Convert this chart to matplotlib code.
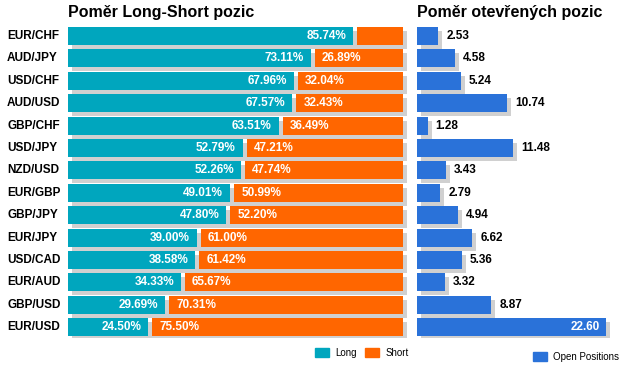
import matplotlib
matplotlib.use("Agg")
import matplotlib.pyplot as plt
from matplotlib.patches import Patch
from matplotlib.transforms import blended_transform_factory

plt.rcParams['font.family'] = ['Liberation Sans', 'DejaVu Sans']

pairs = ["EUR/CHF", "AUD/JPY", "USD/CHF", "AUD/USD", "GBP/CHF", "USD/JPY", "NZD/USD",
         "EUR/GBP", "GBP/JPY", "EUR/JPY", "USD/CAD", "EUR/AUD", "GBP/USD", "EUR/USD"]
long_pct = [85.74, 73.11, 67.96, 67.57, 63.51, 52.79, 52.26, 49.01, 47.80, 39.00, 38.58, 34.33, 29.69, 24.50]
short_pct = [14.26, 26.89, 32.04, 32.43, 36.49, 47.21, 47.74, 50.99, 52.20, 61.00, 61.42, 65.67, 70.31, 75.50]
open_pos = [2.53, 4.58, 5.24, 10.74, 1.28, 11.48, 3.43, 2.79, 4.94, 6.62, 5.36, 3.32, 8.87, 22.60]

TEAL = "#00a6be"
ORANGE = "#ff6600"
BLUE = "#2a72d9"
SHADOW = "#d0d0d0"

W, H = 621, 373
fig = plt.figure(figsize=(W / 100, H / 100), dpi=100)

n = len(pairs)
pitch = 22.4
top_px = 36 - pitch / 2
bot_px = top_px + n * pitch

def frac(x0, x1):
    return [x0 / W, 1 - bot_px / H, (x1 - x0) / W, (bot_px - top_px) / H]

# Left panel
lx0, lx1 = 68, 403
axL = fig.add_axes(frac(lx0, lx1 + 10))
scaleL = (lx1 - lx0) / 100.0
axL.set_xlim(0, (lx1 + 10 - lx0) / scaleL)
axL.set_ylim(n - 0.5, -0.5)
axL.axis('off')
bh = 18 / pitch
dxL = 4 / scaleL
dy = 4 / pitch
gap = 2 / scaleL
ys = list(range(n))
axL.barh([y + dy for y in ys], [100] * n, left=dxL, height=bh, color=SHADOW, zorder=1)
axL.barh(ys, [v - gap for v in long_pct], left=0, height=bh, color=TEAL, zorder=2)
axL.barh(ys, [s - gap for s in short_pct], left=[v + gap for v in long_pct], height=bh,
         color=ORANGE, zorder=2)
for y, v, s in zip(ys, long_pct, short_pct):
    axL.annotate(f"{v:.2f}%", (v - gap, y), xytext=(-7, 0), textcoords='offset pixels',
                 ha='right', va='center', color='white', fontsize=8.5, fontweight='bold', zorder=3)
    if s >= 20:
        axL.annotate(f"{s:.2f}%", (v + gap, y), xytext=(7, 0), textcoords='offset pixels',
                     ha='left', va='center', color='white', fontsize=8.5, fontweight='bold', zorder=3)
trans = blended_transform_factory(fig.transFigure, axL.transData)
for y, p in zip(ys, pairs):
    axL.text(7 / W, y, p, transform=trans, ha='left', va='center', fontsize=8.5,
             fontweight='bold', color='black')
fig.text(lx0 / W, 1 - 13 / H, "Poměr Long-Short pozic", ha='left', va='center',
         fontsize=11.5, fontweight='bold', color='black')

# Right panel
rx0 = 417
scaleR = 8.37
axR = fig.add_axes(frac(rx0, W))
axR.set_xlim(0, (W - rx0) / scaleR)
axR.set_ylim(n - 0.5, -0.5)
axR.axis('off')
dxR = 4 / scaleR
axR.barh([y + dy for y in ys], open_pos, left=dxR, height=bh, color=SHADOW, zorder=1)
axR.barh(ys, open_pos, height=bh, color=BLUE, zorder=2)
vmax = max(open_pos)
for y, v in zip(ys, open_pos):
    if v == vmax:
        axR.annotate(f"{v:.2f}", (v, y), xytext=(-6, 0), textcoords='offset pixels',
                     ha='right', va='center', color='white', fontsize=8.5, fontweight='bold', zorder=3)
    else:
        axR.annotate(f"{v:.2f}", (v, y), xytext=(8, 0), textcoords='offset pixels',
                     ha='left', va='center', color='black', fontsize=8.5, fontweight='bold', zorder=3)
fig.text(rx0 / W, 1 - 13 / H, "Poměr otevřených pozic", ha='left', va='center',
         fontsize=11.5, fontweight='bold', color='black')

# Legends
leg_kw = dict(frameon=False, borderpad=0, borderaxespad=0, handlelength=1.45, handleheight=1.1,
              handletextpad=0.6, columnspacing=0.9, fontsize=7, loc='upper left')
fig.legend(handles=[Patch(color=TEAL, label='Long'), Patch(color=ORANGE, label='Short')],
           ncol=2, bbox_to_anchor=(315 / W, 1 - 348 / H), **leg_kw)
fig.legend(handles=[Patch(color=BLUE, label='Open Positions')],
           ncol=1, bbox_to_anchor=(533 / W, 1 - 352 / H), **leg_kw)

fig.savefig("out.png", dpi=100, facecolor='white')
